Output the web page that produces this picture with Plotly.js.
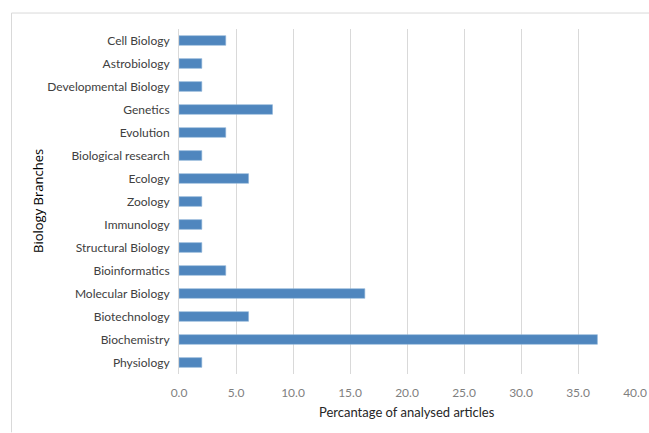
<!DOCTYPE html>
<html>
<head>
<meta charset="utf-8">
<script src="https://cdn.plot.ly/plotly-3.0.1.min.js"></script>
<style>html,body{margin:0;padding:0;background:#fff;}#chart{width:649px;height:433px;}</style>
</head>
<body>
<div id="chart"></div>
<script>
const categories = ["Physiology","Biochemistry","Biotechnology","Molecular Biology","Bioinformatics","Structural Biology","Immunology","Zoology","Ecology","Biological research","Evolution","Genetics","Developmental Biology","Astrobiology","Cell Biology"];
const values = [2.0, 36.7, 6.1, 16.3, 4.1, 2.0, 2.0, 2.0, 6.1, 2.0, 4.1, 8.2, 2.0, 2.0, 4.1];
const xTickValues = [0,5,10,15,20,25,30,35,40];
const xTickLabels = ["0.0","5.0","10.0","15.0","20.0","25.0","30.0","35.0","40.0"];
const xTitle = "Percantage of analysed articles";
const yTitle = "Biology Branches";

const L = 179, R = 635, T = 28.5, B = 374.5, W = 649, H = 433;
const pw = R - L, ph = B - T;
const px = v => (v - L) / pw;
const py = v => (B - v) / ph;

const trace = {
  type: 'bar', orientation: 'h',
  x: values, y: categories,
  marker: {color: '#4f86be', line: {color: '#8fb3d9', width: 0.6}},
  width: 0.42,
  hoverinfo: 'x+y'
};

const layout = {
  width: W, height: H,
  margin: {l: L, r: W - R, t: T, b: H - B, pad: 0},
  paper_bgcolor: '#fff', plot_bgcolor: '#fff',
  showlegend: false,
  font: {family: 'Lato, "Open Sans", sans-serif', size: 12, color: '#404040'},
  xaxis: {
    range: [0, 40], tickvals: xTickValues, ticktext: xTickLabels,
    showgrid: true, gridcolor: '#d9d9d9', gridwidth: 1,
    zeroline: false, showline: false, ticks: '',
    tickfont: {size: 12, color: '#7f7f7f'}, ticklabelstandoff: 10
  },
  yaxis: {
    type: 'category', categoryorder: 'array', categoryarray: categories,
    range: [-0.5, categories.length - 0.5],
    showgrid: false, zeroline: false,
    showline: true, linecolor: '#d9d9d9', linewidth: 1,
    ticks: '', tickfont: {size: 12, color: '#404040'}, ticklabelstandoff: 6
  },
  annotations: [
    {xref: 'paper', yref: 'paper', x: px(38), y: py(201), text: yTitle, textangle: -90,
     showarrow: false, xanchor: 'center', yanchor: 'middle',
     font: {family: '"Open Sans", sans-serif', size: 13, color: '#000'}},
    {xref: 'paper', yref: 'paper', x: px(407), y: py(413), text: xTitle,
     showarrow: false, xanchor: 'center', yanchor: 'middle',
     font: {size: 13, color: '#262626'}}
  ],
  shapes: [
    {type: 'line', xref: 'paper', yref: 'paper', x0: px(11.5), x1: px(649), y0: py(12.5), y1: py(12.5),
     line: {color: '#d9d9d9', width: 1}},
    {type: 'line', xref: 'paper', yref: 'paper', x0: px(11.5), x1: px(11.5), y0: py(12.5), y1: py(433),
     line: {color: '#d9d9d9', width: 1}}
  ]
};

Plotly.newPlot('chart', [trace], layout, {displayModeBar: false, staticPlot: true});
</script>
</body>
</html>
